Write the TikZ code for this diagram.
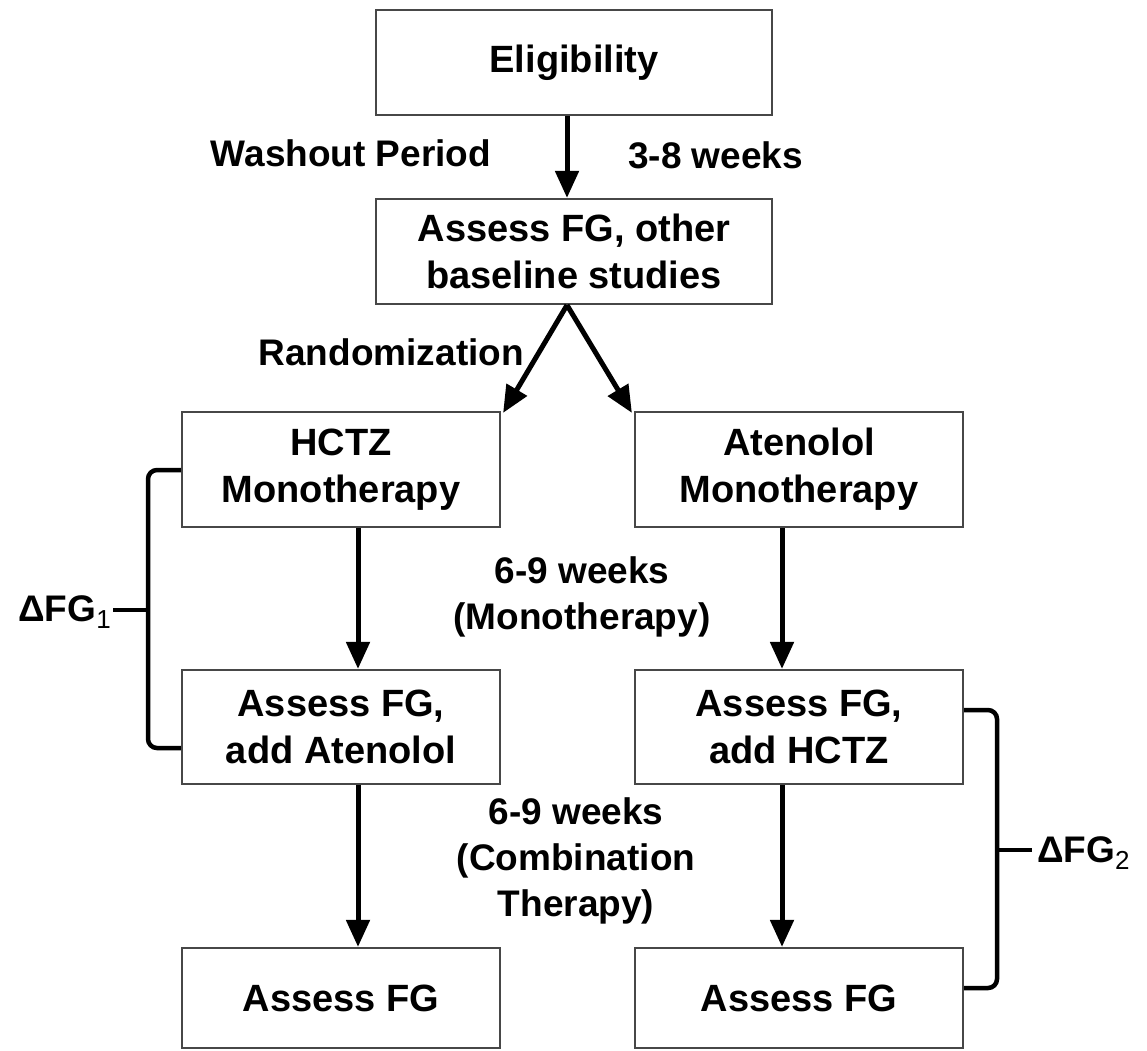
\documentclass[tikz,border=0pt]{standalone}
\usepackage{fontspec}
\setmainfont{Liberation Sans}
\usetikzlibrary{arrows.meta,positioning,calc}
\begin{document}
\begin{tikzpicture}[x=1pt,y=-1pt,
  box/.style={draw=black!72, line width=2.2pt, inner sep=0pt, align=center,
    font=\fontsize{38}{47}\selectfont\bfseries},
  lbl/.style={inner sep=0pt, align=center, font=\fontsize{37}{46}\selectfont\bfseries},
  arr/.style={line width=5pt, -{Triangle[width=23pt,length=27pt]}},
  brk/.style={line width=4.5pt, rounded corners=9pt}]
\useasboundingbox (0,0) rectangle (1147,1050);
% boxes
\node[box, minimum width=396pt, minimum height=105pt] (elig) at (574,62.5) {Eligibility};
\node[box, minimum width=396pt, minimum height=105pt] (base) at (574,251.5) {Assess FG, other\\baseline studies};
\node[box, minimum width=318pt, minimum height=115pt] (hctz) at (341,469.5) {HCTZ\\Monotherapy};
\node[box, minimum width=328pt, minimum height=115pt] (aten) at (799,469.5) {Atenolol\\Monotherapy};
\node[box, minimum width=318pt, minimum height=114pt] (addat) at (341,727) {Assess FG,\\add Atenolol};
\node[box, minimum width=328pt, minimum height=114pt] (addh) at (799,727) {Assess FG,\\add HCTZ};
\node[box, minimum width=318pt, minimum height=100pt] (endl) at (341,998) {Assess FG};
\node[box, minimum width=328pt, minimum height=100pt] (endr) at (799,998) {Assess FG};
% labels
\node[lbl] (wash) at (351,153) {Washout Period};
\node[lbl, anchor=west] (w38) at (628,155) {3-8 weeks};
\node[lbl, anchor=east] (rand) at (524,352) {Randomization};
\node[lbl] (mono) at (582,597) {6-9 weeks\\(Monotherapy)};
\node[lbl] (comb) at (576,861) {6-9 weeks\\(Combination\\Therapy)};
% arrows
\draw[arr] ([xshift=-7pt]elig.south) -- ([xshift=-7pt]base.north);
\coordinate (apex) at ([xshift=-7pt]base.south);
\draw[arr] (apex) -- ([xshift=2pt,yshift=-2pt]hctz.north east);
\draw[arr] (apex) -- ([xshift=-2pt,yshift=-2pt]aten.north west);
\draw[arr] ([xshift=17pt]hctz.south) -- ([xshift=17pt]addat.north);
\draw[arr] ([xshift=17pt]addat.south) -- ([xshift=17pt]endl.north);
\draw[arr] ([xshift=-17pt]aten.south) -- ([xshift=-17pt]addh.north);
\draw[arr] ([xshift=-17pt]addh.south) -- ([xshift=-17pt]endr.north);
% left bracket
\coordinate (l1) at (hctz.west |- 0,470);
\coordinate (l2) at (addat.west |- 0,748);
\draw[brk] (l1) -- (148,470) -- (148,748) -- (l2);
\coordinate (lt) at (113,610);
\draw[line width=4.5pt] (148,610) -- (lt);
\node[lbl, anchor=east] (dfg1) at (111,612) {ΔFG{\fontsize{26}{26}\selectfont\mdseries\raisebox{-7pt}{1}}};
% right bracket
\coordinate (r1) at (addh.east |- 0,710);
\coordinate (r2) at (endr.east |- 0,988);
\draw[brk] (r1) -- (997,710) -- (997,988) -- (r2);
\coordinate (rt) at (1032,850);
\draw[line width=4.5pt] (997,850) -- (rt);
\node[lbl, anchor=west] (dfg2) at (1037,853) {ΔFG{\fontsize{26}{26}\selectfont\mdseries\raisebox{-7pt}{2}}};
\end{tikzpicture}
\end{document}
